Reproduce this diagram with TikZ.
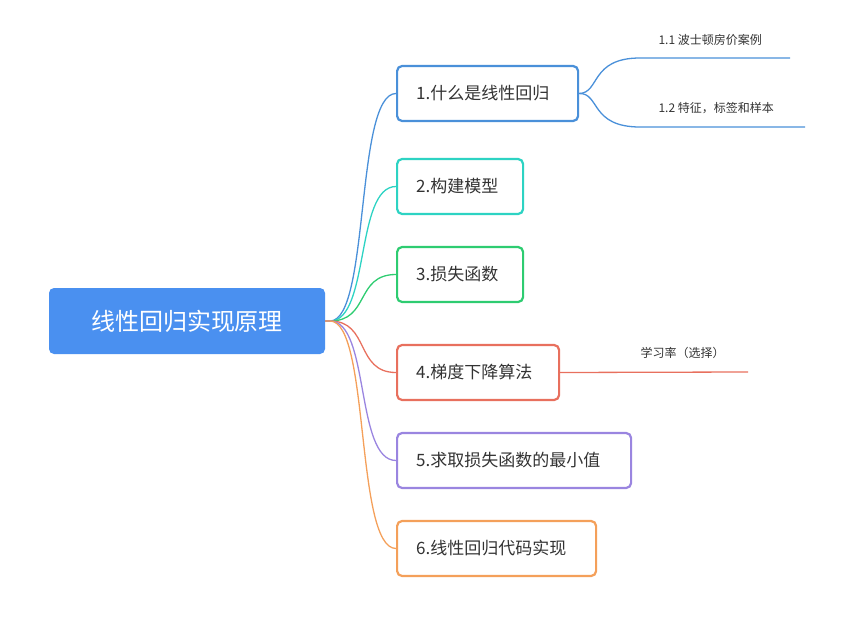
\documentclass[tikz,border=0pt]{standalone}
\usepackage{fontspec}
\setmainfont{Noto Sans CJK SC}
\definecolor{cRoot}{HTML}{4A90F0}
\definecolor{cOne}{HTML}{4A90D9}
\definecolor{cTwo}{HTML}{2DD3C3}
\definecolor{cThree}{HTML}{2ECC71}
\definecolor{cFour}{HTML}{E8705E}
\definecolor{cFive}{HTML}{9A85E0}
\definecolor{cSix}{HTML}{F4A05A}
\tikzset{
  topic/.style 2 args={draw=#1, line width=2.2pt, rounded corners=5pt, fill=white, minimum height=55pt, inner xsep=19pt, text width=#2, align=left, font=\fontsize{17pt}{19pt}\selectfont, text=black!80, anchor=west},
  branch/.style={draw=#1, line width=1.3pt},
  leaf/.style={font=\fontsize{12pt}{14pt}\selectfont, text=black!80, anchor=west},
}
\begin{document}
\begin{tikzpicture}[x=1pt,y=-1pt]
    \useasboundingbox (0,0) rectangle (860,618);
    \node[fill=cRoot, rounded corners=5pt, minimum width=276pt, minimum height=66pt, text=white, font=\fontsize{24pt}{26pt}\selectfont] (root) at (187,321) {线性回归实现原理};
    \coordinate (hub) at (330,321);

    \node[topic={cOne}{143pt}] (t1) at (396,93.5) {1.什么是线性回归};
    \node[topic={cTwo}{88pt}] (t2) at (396,186.5) {2.构建模型};
    \node[topic={cThree}{88pt}] (t3) at (396,274.5) {3.损失函数};
    \node[topic={cFour}{124pt}] (t4) at (396,372.5) {4.梯度下降算法};
    \node[topic={cFive}{196pt}] (t5) at (396,460.5) {5.求取损失函数的最小值};
    \node[topic={cSix}{161pt}] (t6) at (396,548.5) {6.线性回归代码实现};

    % branches from the root
    \foreach \t/\c in {t1/cOne,t2/cTwo,t3/cThree,t4/cFour,t5/cFive,t6/cSix}
        \draw[branch=\c] (root.east) -- (hub) .. controls (370,321) and (355,0|-\t.west) .. (\t.west);

    % leaves
    \node[leaf] (l11) at (655,40) {1.1 波士顿房价案例};
    \node[leaf] (l12) at (655,108) {1.2 特征，标签和样本};
    \node[leaf] (l41) at (637,353) {学习率（选择）};
    \coordinate (e11) at (790,58);
    \coordinate (e12) at (805,127);
    \coordinate (e41) at (748,372);
    \draw[branch=cOne] (t1.east) .. controls (600,93) and (590,58) .. (640,58) -- (e11);
    \draw[branch=cOne] (t1.east) .. controls (600,93) and (590,127) .. (640,127) -- (e12);
    \draw[branch=cFour] (t4.east) -- (e41);
\end{tikzpicture}
\end{document}
